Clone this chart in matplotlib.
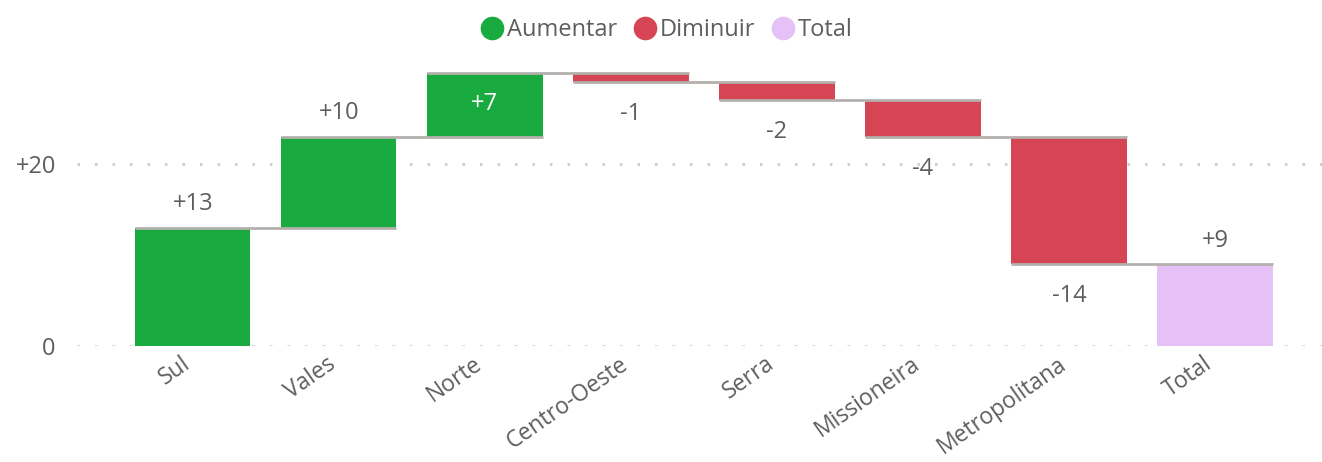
import matplotlib.pyplot as plt
import numpy as np
from matplotlib.lines import Line2D

plt.rcParams['font.family'] = ['Open Sans', 'DejaVu Sans']

categories = ['Sul', 'Vales', 'Norte', 'Centro-Oeste', 'Serra', 'Missioneira', 'Metropolitana', 'Total']
changes = [13, 10, 7, -1, -2, -4, -14]
total = 9

green = '#1aab40'
red = '#d64554'
lilac = '#e6c1f7'
grey_line = '#b3b0ad'
text_col = '#605e5c'

ends = np.cumsum(changes)
starts = ends - np.array(changes)

fig = plt.figure(figsize=(13.22, 4.62), dpi=100)
ax = fig.add_axes([0.058, 0.251, 0.942, 0.63])

x = np.arange(len(categories))
w = 0.79
fs = 17

# gridlines
for g in [0, 20]:
    ax.axhline(g, color='#c8c6c4', linestyle=(0, (1, 6)), linewidth=1.8, zorder=0)

for i, d in enumerate(changes):
    col = green if d > 0 else red
    ax.bar(x[i], d, bottom=starts[i], width=w, color=col, zorder=2)
ax.bar(x[-1], total, width=w, color=lilac, zorder=2)

# connectors
for i, lv in enumerate(ends):
    ax.hlines(lv, x[i] - w / 2, x[i + 1] + w / 2, color=grey_line, linewidth=2, zorder=3)

# data labels
for i, d in enumerate(changes):
    lab = f'+{d}' if d > 0 else f'{d}'
    if d > 0:
        top = ends[i]
        if top >= 29:
            ax.text(x[i], top - 3.4, lab, ha='center', va='center', fontsize=fs, color='white', zorder=4)
        else:
            ax.text(x[i], top + 2.6, lab, ha='center', va='center', fontsize=fs, color=text_col, zorder=4)
    else:
        ax.text(x[i], ends[i] - 3.5, lab, ha='center', va='center', fontsize=fs, color=text_col, zorder=4)
ax.text(x[-1], total + 2.6, f'+{total}', ha='center', va='center', fontsize=fs, color=text_col, zorder=4)

ax.set_xlim(-0.795, 7.733)
ax.set_ylim(0, 32)

# category labels, rotated
ax.set_xticks([])
for i, c in enumerate(categories):
    ax.annotate(c, xy=(x[i], 0), xycoords=('data', 'axes fraction'),
                xytext=(-12, -6), textcoords='offset pixels',
                rotation=35, ha='right', va='top', rotation_mode='anchor',
                fontsize=16.5, color=text_col)

ax.set_yticks([0, 20])
ax.set_yticklabels(['0', '+20'], fontsize=fs, color=text_col)
ax.tick_params(axis='y', length=0, pad=15)
for s in ax.spines.values():
    s.set_visible(False)

handles = [Line2D([], [], marker='o', linestyle='', markersize=16, color=c) for c in [green, red, lilac]]
fig.legend(handles, ['Aumentar', 'Diminuir', 'Total'], loc='upper center', bbox_to_anchor=(0.502, 0.997),
           ncol=3, frameon=False, fontsize=fs, labelcolor=text_col, handletextpad=-0.1,
           columnspacing=0.4, handlelength=1.5, borderaxespad=0.3)

fig.savefig('out.png', dpi=100)
